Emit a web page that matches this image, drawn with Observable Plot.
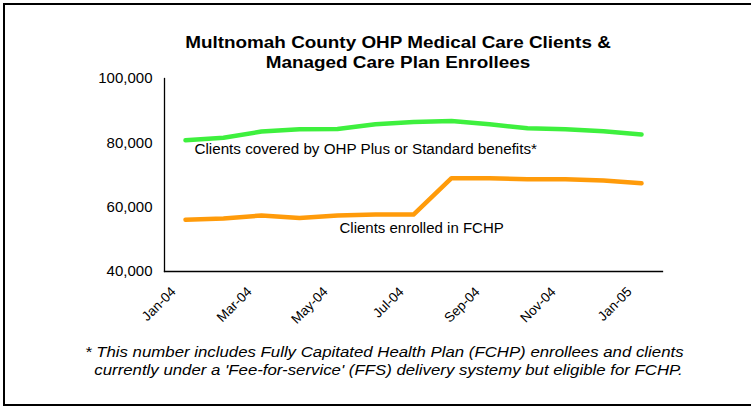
<!DOCTYPE html>
<html><head><meta charset="utf-8">
<script src="https://cdn.jsdelivr.net/npm/d3@7"></script>
<script src="https://cdn.jsdelivr.net/npm/@observablehq/plot@0.6"></script>
<style>
body{margin:0;background:#fff;font-family:"Liberation Sans",Arial,sans-serif;}
#wrap{position:relative;width:751px;height:407px;overflow:hidden;}
#border{position:absolute;left:3px;top:3px;width:760px;height:399px;border:2px solid #000;}
#title{position:absolute;left:0;width:796px;top:33px;text-align:center;font-weight:bold;font-size:16px;line-height:20px;color:#000;transform:scaleX(1.18);transform-origin:398px 0;}
#chart{position:absolute;left:0;top:0;}
#note{position:absolute;left:85px;top:343px;font-style:italic;font-size:14px;line-height:18px;color:#000;transform:scaleX(1.2);transform-origin:0 0;white-space:nowrap;}
</style></head>
<body><div id="wrap"><div id="border"></div>
<div id="title">Multnomah County OHP Medical Care Clients &amp;<br>Managed Care Plan Enrollees</div>
<div id="chart"></div>
<div id="note">* This number includes Fully Capitated Health Plan (FCHP) enrollees and clients<br>&nbsp;&nbsp;currently under a 'Fee-for-service' (FFS) delivery systemy but eligible for FCHP.</div>
</div>
<script>
const months = ["Jan-04","Feb-04","Mar-04","Apr-04","May-04","Jun-04","Jul-04","Aug-04","Sep-04","Oct-04","Nov-04","Dec-04","Jan-05"];
const ohpClients = [80800,81600,83500,84200,84300,85800,86500,86800,85800,84500,84200,83600,82600];
const fchpClients = [56100,56500,57400,56600,57400,57700,57700,69000,69000,68700,68700,68300,67400];
const tickLabels = ["Jan-04","Mar-04","May-04","Jul-04","Sep-04","Nov-04","Jan-05"];
const yTicks = [40000,60000,80000,100000];
const ohpLabel = [{month:"Jan-04", value:78150, text:"Clients covered by OHP Plus or Standard benefits*"}];
const fchpLabel = [{month:"May-04", value:53400, text:"Clients enrolled in FCHP"}];
const ohp = months.map((m,i)=>({month:m,value:ohpClients[i]}));
const fchp = months.map((m,i)=>({month:m,value:fchpClients[i]}));
const chart = Plot.plot({
  width:751, height:340,
  marginLeft:164, marginRight:89, marginTop:78, marginBottom:69,
  style:{fontFamily:"Liberation Sans, Arial, sans-serif", background:"transparent", color:"#000"},
  x:{type:"point", domain:months, padding:0.44, label:null},
  y:{domain:[40000,100000], label:null},
  marks:[
    Plot.frame({anchor:"left", stroke:"#000", strokeWidth:1.3}),
    Plot.frame({anchor:"bottom", stroke:"#000", strokeWidth:1.3}),
    Plot.axisY({ticks:yTicks, tickSize:0, tickPadding:12, tickFormat:d3.format(","), fontSize:15, label:null}),
    Plot.axisX({ticks:tickLabels, tickSize:0, tickRotate:-45, tickPadding:14, dx:-12, dy:4, fontSize:13.5, label:null}),
    Plot.lineY(ohp, {x:"month", y:"value", stroke:"#3ef03e", strokeWidth:4.5}),
    Plot.lineY(fchp, {x:"month", y:"value", stroke:"#ff9b0a", strokeWidth:4.5}),
    Plot.text(ohpLabel, {x:"month", y:"value", text:"text", textAnchor:"start", dx:9, fontSize:15.2, fill:"#000"}),
    Plot.text(fchpLabel, {x:"month", y:"value", text:"text", textAnchor:"start", dx:2, fontSize:15, fill:"#000"})
  ]
});
document.getElementById("chart").appendChild(chart);
</script></body></html>
